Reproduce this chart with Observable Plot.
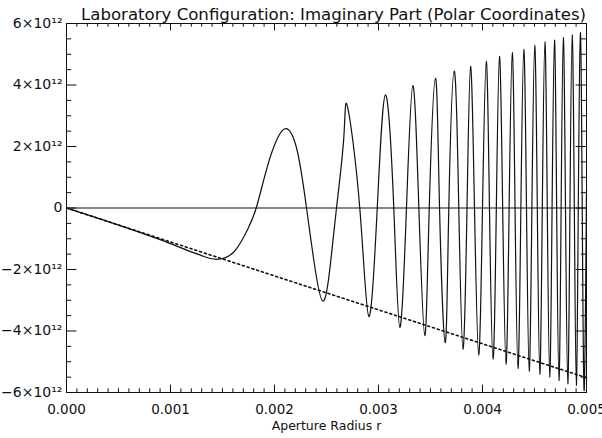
<!DOCTYPE html>
<html><head><meta charset="utf-8">
<script src="https://cdn.jsdelivr.net/npm/d3@7"></script>
<script src="https://cdn.jsdelivr.net/npm/@observablehq/plot@0.6"></script>
<style>
html,body{margin:0;padding:0;background:#fff;}
#chart svg{display:block;}
</style>
</head><body><div id="chart"></div>
<script>
const titleText = "Laboratory Configuration: Imaginary Part (Polar Coordinates)";
const xAxisLabel = "Aperture Radius r";

// Solid curve: aperture radius r and imaginary part (units of 1e12)
const radius = [
  0, 0.0003, 0.0006, 0.0009, 0.00115, 0.0013, 0.00144, 0.001609, 0.001737, 0.001824,
  0.00193, 0.002026, 0.002115, 0.002218, 0.002308, 0.002378, 0.002465, 0.002538, 0.002596, 0.002667,
  0.002702, 0.00282, 0.002907, 0.002988, 0.003067, 0.003147, 0.003205, 0.003269, 0.00333, 0.003388,
  0.003445, 0.003488, 0.003548, 0.003587, 0.003641, 0.003676, 0.003728, 0.003772, 0.003812, 0.003851,
  0.003885, 0.003923, 0.003963, 0.004, 0.004036, 0.004067, 0.004101, 0.004133, 0.004163, 0.004194,
  0.004226, 0.004256, 0.004286, 0.004313, 0.004341, 0.004369, 0.004397, 0.004423, 0.004449, 0.004475,
  0.004502, 0.004527, 0.004551, 0.004575, 0.0046, 0.004623, 0.004646, 0.004669, 0.004692, 0.004713,
  0.004735, 0.004756, 0.004777, 0.004798, 0.00482, 0.004841, 0.004862, 0.004883, 0.004902, 0.004921,
  0.004941, 0.004959, 0.004978, 0.005
];
const imagPartE12 = [
  0, -0.33, -0.67, -1.03, -1.36, -1.55, -1.67, -1.43, -0.73, 0,
  1.33, 2.25, 2.58, 1.87, 0, -1.70, -3.03, -1.81, 0, 2.32,
  3.30, 0, -3.53, 0, 3.68, 0, -3.88, 0, 3.98, 0,
  -4.15, 0, 4.22, 0, -4.38, 0, 4.45, 0, -4.59, 0,
  4.61, 0, -4.78, 0, 4.77, 0, -4.91, 0, 4.93, 0,
  -5.08, 0, 5.05, 0, -5.22, 0, 5.16, 0, -5.31, 0,
  5.29, 0, -5.41, 0, 5.40, 0, -5.50, 0, 5.46, 0,
  -5.61, 0, 5.54, 0, -5.72, 0, 5.63, 0, -5.77, 0,
  5.70, 0, -5.94, 0.6
];

// Dotted reference line
const refRadius = [0, 0.005];
const refImagE12 = [0, -5.52];

// Axis ticks
const xTickValues = [0, 0.001, 0.002, 0.003, 0.004, 0.005];
const xTickLabels = ["0.000", "0.001", "0.002", "0.003", "0.004", "0.005"];
const yTickValues = [-6, -4, -2, 0, 2, 4, 6];
const yTickLabels = ["\u22126\u00d710\u00b9\u00b2", "\u22124\u00d710\u00b9\u00b2", "\u22122\u00d710\u00b9\u00b2", "0", "2\u00d710\u00b9\u00b2", "4\u00d710\u00b9\u00b2", "6\u00d710\u00b9\u00b2"];
const xMinorStep = 0.0001;
const yMinorStep = 0.5;

const W = 602, H = 438;
const mL = 66, mR = 16, mT = 23, mB = 46;
const iW = W - mL - mR, iH = H - mT - mB;

const curve = radius.map((r, i) => ({r, v: imagPartE12[i]}));
const ref = refRadius.map((r, i) => ({r, v: refImagE12[i]}));
const xMinor = d3.range(0, 50 + 1).map(k => k * xMinorStep).filter(v => !xTickValues.some(t => Math.abs(t - v) < 1e-9));
const yMinor = d3.range(-12, 13).map(k => k * yMinorStep).filter(v => !yTickValues.includes(v));

const ink = "#111";
const xMajLen = 7.4, xMinLen = 3.7, yMajLen = 10.4, yMinLen = 5.2;

const chart = Plot.plot({
  width: W, height: H,
  marginLeft: mL, marginRight: mR, marginTop: mT, marginBottom: mB,
  style: {fontFamily: "'DejaVu Sans', sans-serif", fontSize: "13px", background: "#fff", color: ink},
  x: {domain: [0, 0.005], axis: null},
  y: {domain: [-6, 6], axis: null},
  marks: [
    Plot.frame({stroke: ink, strokeWidth: 1}),
    // ticks inside the frame on all four sides
    Plot.tickX(xTickValues, {x: d => d, insetTop: iH - xMajLen, stroke: ink}),
    Plot.tickX(xTickValues, {x: d => d, insetBottom: iH - xMajLen, stroke: ink}),
    Plot.tickX(xMinor, {x: d => d, insetTop: iH - xMinLen, stroke: ink}),
    Plot.tickX(xMinor, {x: d => d, insetBottom: iH - xMinLen, stroke: ink}),
    Plot.tickY(yTickValues, {y: d => d, insetRight: iW - yMajLen, stroke: ink}),
    Plot.tickY(yTickValues, {y: d => d, insetLeft: iW - yMajLen, stroke: ink}),
    Plot.tickY(yMinor, {y: d => d, insetRight: iW - yMinLen, stroke: ink}),
    Plot.tickY(yMinor, {y: d => d, insetLeft: iW - yMinLen, stroke: ink}),
    Plot.ruleY([0], {stroke: ink, strokeWidth: 1.2}),
    Plot.line(ref, {x: "r", y: "v", stroke: ink, strokeWidth: 1.6, strokeDasharray: "2,3"}),
    Plot.line(curve, {x: "r", y: "v", stroke: ink, strokeWidth: 1.2, curve: "natural"}),
    // tick labels
    Plot.text(xTickValues, {x: d => d, text: (d, i) => xTickLabels[i], frameAnchor: "bottom", dy: 21, fontSize: 13.5, fill: ink}),
    Plot.text(yTickValues, {y: d => d, text: (d, i) => yTickLabels[i], frameAnchor: "left", textAnchor: "end", dx: -4, fontSize: 14, fill: ink}),
    Plot.text([xAxisLabel], {text: d => d, frameAnchor: "bottom", dy: 37, fontSize: 12.5, fill: ink}),
    Plot.text([titleText], {text: d => d, frameAnchor: "top", lineAnchor: "bottom", dy: -4, dx: 7, fontSize: 16.6, fill: ink})
  ]
});
document.getElementById("chart").appendChild(chart);
</script>
</body></html>
